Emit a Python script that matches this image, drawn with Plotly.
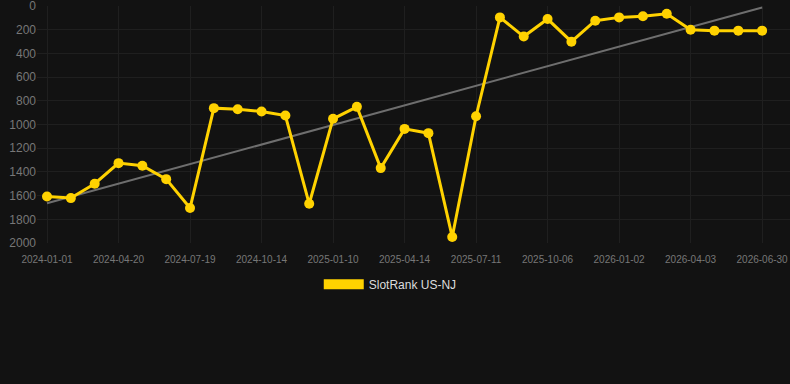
import plotly.graph_objects as go

# ---- data ----
dates = [
    "2024-01-01", "2024-02-06", "2024-03-14", "2024-04-20", "2024-05-20", "2024-06-19",
    "2024-07-19", "2024-08-17", "2024-09-15", "2024-10-14", "2024-11-12", "2024-12-11",
    "2025-01-10", "2025-02-11", "2025-03-13", "2025-04-14", "2025-05-13", "2025-06-11",
    "2025-07-11", "2025-08-08", "2025-09-07", "2025-10-06", "2025-11-04", "2025-12-03",
    "2026-01-02", "2026-02-01", "2026-03-03", "2026-04-03", "2026-05-03", "2026-06-01",
    "2026-06-30",
]
rank = [
    1607, 1621, 1500, 1326, 1348, 1461, 1705, 862, 871, 890, 924, 1669,
    952, 851, 1368, 1037, 1073, 1949, 930, 96, 258, 110, 301, 124,
    96, 87, 65, 200, 208, 208, 208,
]
trend_dates = ["2024-01-01", "2026-06-30"]
trend_rank = [1665, 12]
tick_dates = dates[::3]
y_ticks = list(range(0, 2001, 200))
series_name = "SlotRank US-NJ"

GOLD = "#FFD200"
BG = "#121212"
GRID = "#1f1f1f"
TICK = "#777777"

fig = go.Figure()
fig.add_trace(go.Scatter(
    x=trend_dates, y=trend_rank, mode="lines",
    line=dict(color="#6e6e6e", width=2),
    showlegend=False, hoverinfo="skip",
))
fig.add_trace(go.Scatter(
    x=dates, y=rank, mode="lines+markers",
    line=dict(color=GOLD, width=3),
    marker=dict(color=GOLD, size=10),
    showlegend=False, name=series_name,
))
# legend swatch
fig.add_trace(go.Scatter(
    x=[None], y=[None], mode="lines",
    line=dict(color=GOLD, width=12),
    name=series_name, showlegend=True,
))

fig.update_layout(
    width=790, height=384,
    paper_bgcolor=BG, plot_bgcolor=BG,
    margin=dict(l=37, r=0, t=6, b=141),
    font=dict(family="Arial, Liberation Sans, sans-serif", color=TICK),
    showlegend=True,
    legend=dict(
        orientation="h", xref="container", yref="container",
        x=0.494, xanchor="center", y=0.26, yanchor="middle",
        font=dict(size=12, color="#dddddd"),
        bgcolor="rgba(0,0,0,0)", itemwidth=40,
    ),
)
fig.update_xaxes(
    type="category", categoryorder="array", categoryarray=dates,
    range=[-0.42, 31.17],
    tickmode="array", tickvals=tick_dates, ticktext=tick_dates,
    tickfont=dict(size=10, color=TICK),
    showgrid=True, gridcolor=GRID, gridwidth=1,
    zeroline=False, showline=False,
    ticks="outside", ticklen=7, tickcolor="rgba(0,0,0,0)",
)
fig.update_yaxes(
    range=[2000, 0], tickmode="array", tickvals=y_ticks,
    tickfont=dict(size=12, color=TICK),
    showgrid=True, gridcolor=GRID, gridwidth=1,
    zeroline=False, showline=False, ticks="",
    ticklabeloverflow="allow",
)

fig.write_html("out.html")
